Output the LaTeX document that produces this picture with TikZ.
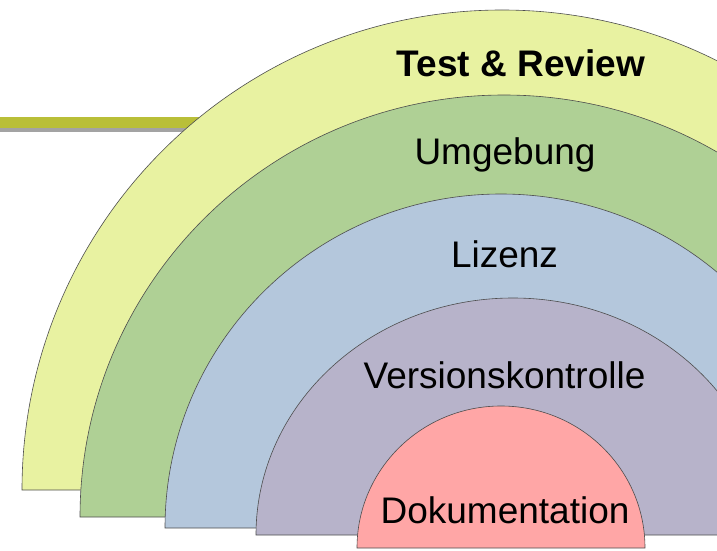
\documentclass[tikz,border=0pt]{standalone}
\usepackage{fontspec}
\setmainfont{Liberation Sans}
\definecolor{cyellow}{HTML}{E8F2A1}
\definecolor{cgreen}{HTML}{AFD095}
\definecolor{cblue}{HTML}{B4C7DC}
\definecolor{cpurple}{HTML}{B7B3CA}
\definecolor{cpink}{HTML}{FFA6A6}
\definecolor{colive}{HTML}{B9BF38}
\definecolor{cshadow}{HTML}{A3A3A3}
\definecolor{cline}{HTML}{4D4D4D}
\tikzset{
  layer/.style={draw=cline, line width=0.6pt},
  lbl/.style={anchor=base, inner sep=0pt, font=\fontsize{37}{44}\selectfont, text=black},
}
\begin{document}
\begin{tikzpicture}[x=1pt,y=1pt]
\useasboundingbox (0,0) rectangle (717,550);
\clip (0,0) rectangle (717,550);
% bar
\fill[cshadow] (0,418) rectangle (300,422);
\fill[colive] (0,422) rectangle (300,433);
% layers
\path[layer, fill=cyellow] (22,60) arc[start angle=180, end angle=0, x radius=480, y radius=480] -- cycle;
\path[layer, fill=cgreen] (80,33) arc[start angle=180, end angle=0, x radius=424, y radius=422] -- cycle;
\path[layer, fill=cblue] (165,22) arc[start angle=180, end angle=0, x radius=336, y radius=334] -- cycle;
\path[layer, fill=cpurple] (256,15) arc[start angle=180, end angle=0, x radius=257, y radius=237] -- cycle;
\path[layer, fill=cpink] (357,2) arc[start angle=180, end angle=0, x radius=144, y radius=142] -- cycle;
% labels
\node[lbl, font=\fontsize{37}{44}\selectfont\bfseries] (test) at (521,473) {Test \& Review};
\node[lbl] (umg) at (505,385) {Umgebung};
\node[lbl] (liz) at (504.5,283) {Lizenz};
\node[lbl] (ver) at (504.5,162) {Versionskontrolle};
\node[lbl] (dok) at (505,27) {Dokumentation};
\end{tikzpicture}
\end{document}
